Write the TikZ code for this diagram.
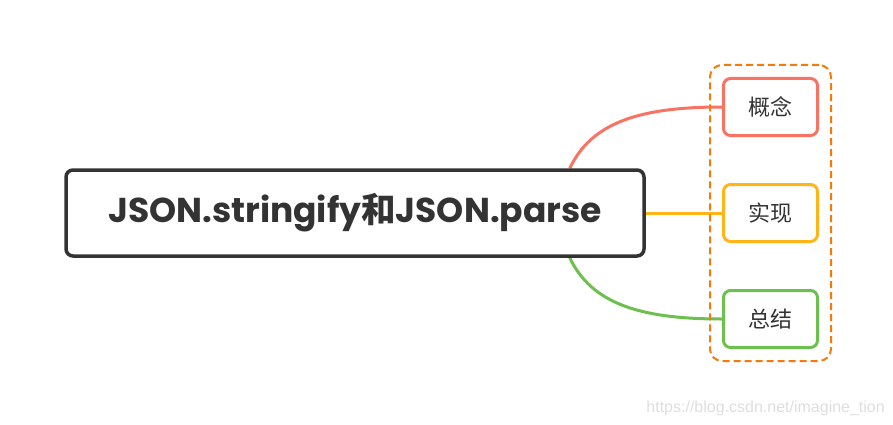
\documentclass[tikz,border=0pt]{standalone}
\usepackage{fontspec}
\usetikzlibrary{
positioning,
fit,
calc,
backgrounds
}
\newfontfamily\titlefont{Poppins}
\newfontfamily\cjk{Noto Sans CJK SC}
\newfontfamily\urlfont{Liberation Sans}
\definecolor{darkline}{HTML}{333333}
\definecolor{topicred}{HTML}{F87362}
\definecolor{topicyellow}{HTML}{FFB418}
\definecolor{topicgreen}{HTML}{6DC04E}
\definecolor{frameorange}{HTML}{F57A0A}

\begin{document}
\begin{tikzpicture}
[x=1pt, y=-1pt,
block_main/.style ={ rectangle, draw=darkline, line width=3.5pt, fill=white, rounded corners=7pt, minimum width=578pt, minimum height=86pt, text=darkline, font=\fontsize{34.5}{40}\selectfont},
block_topic/.style ={ rectangle, draw, line width=3pt, fill=white, rounded corners=7pt, minimum width=94pt, minimum height=57pt, text=darkline, font=\cjk\fontsize{22}{26}\selectfont},
block_frame/.style ={ rectangle, draw=frameorange, line width=2pt, dash pattern=on 7pt off 4pt, rounded corners=12pt, inner sep=12pt},
line_branch/.style ={draw, line width=3pt}
]

\useasboundingbox (0,0) rectangle (893,425);

%%%Knoten%%%
\node [block_main] (main) at (355,213) {\titlefont\bfseries JSON.stringify{\cjk\bfseries 和}JSON.parse};
\node [block_topic, draw=topicyellow] (shixian) at (770.5,213) {实现};
\node [block_topic, draw=topicred, above=46pt of shixian] (gainian) {概念};
\node [block_topic, draw=topicgreen, below=46pt of shixian] (zongjie) {总结};

\node [block_frame, fit=(gainian)(zongjie)] (frame) {};

%%%Pfeile%%%
\coordinate (up_start) at ($(main.north east)+(-76,0)$);
\coordinate (down_start) at ($(main.south east)+(-76,0)$);
\begin{scope}[on background layer]
\draw[line_branch, topicred] (up_start) .. controls ($(up_start)+(22,-46)$) and ($(gainian.west)+(-82,0)$) .. (gainian.west);
\draw[line_branch, topicyellow] (main.east) -- (shixian.west);
\draw[line_branch, topicgreen] (down_start) .. controls ($(down_start)+(22,46)$) and ($(zongjie.west)+(-82,0)$) .. (zongjie.west);
\end{scope}

\node [anchor=east, text=black!13, font=\urlfont\fontsize{16}{18}\selectfont, inner sep=0pt] (watermark) at (885,408) {https://blog.csdn.net/imagine\_tion};

\end{tikzpicture}
\end{document}
